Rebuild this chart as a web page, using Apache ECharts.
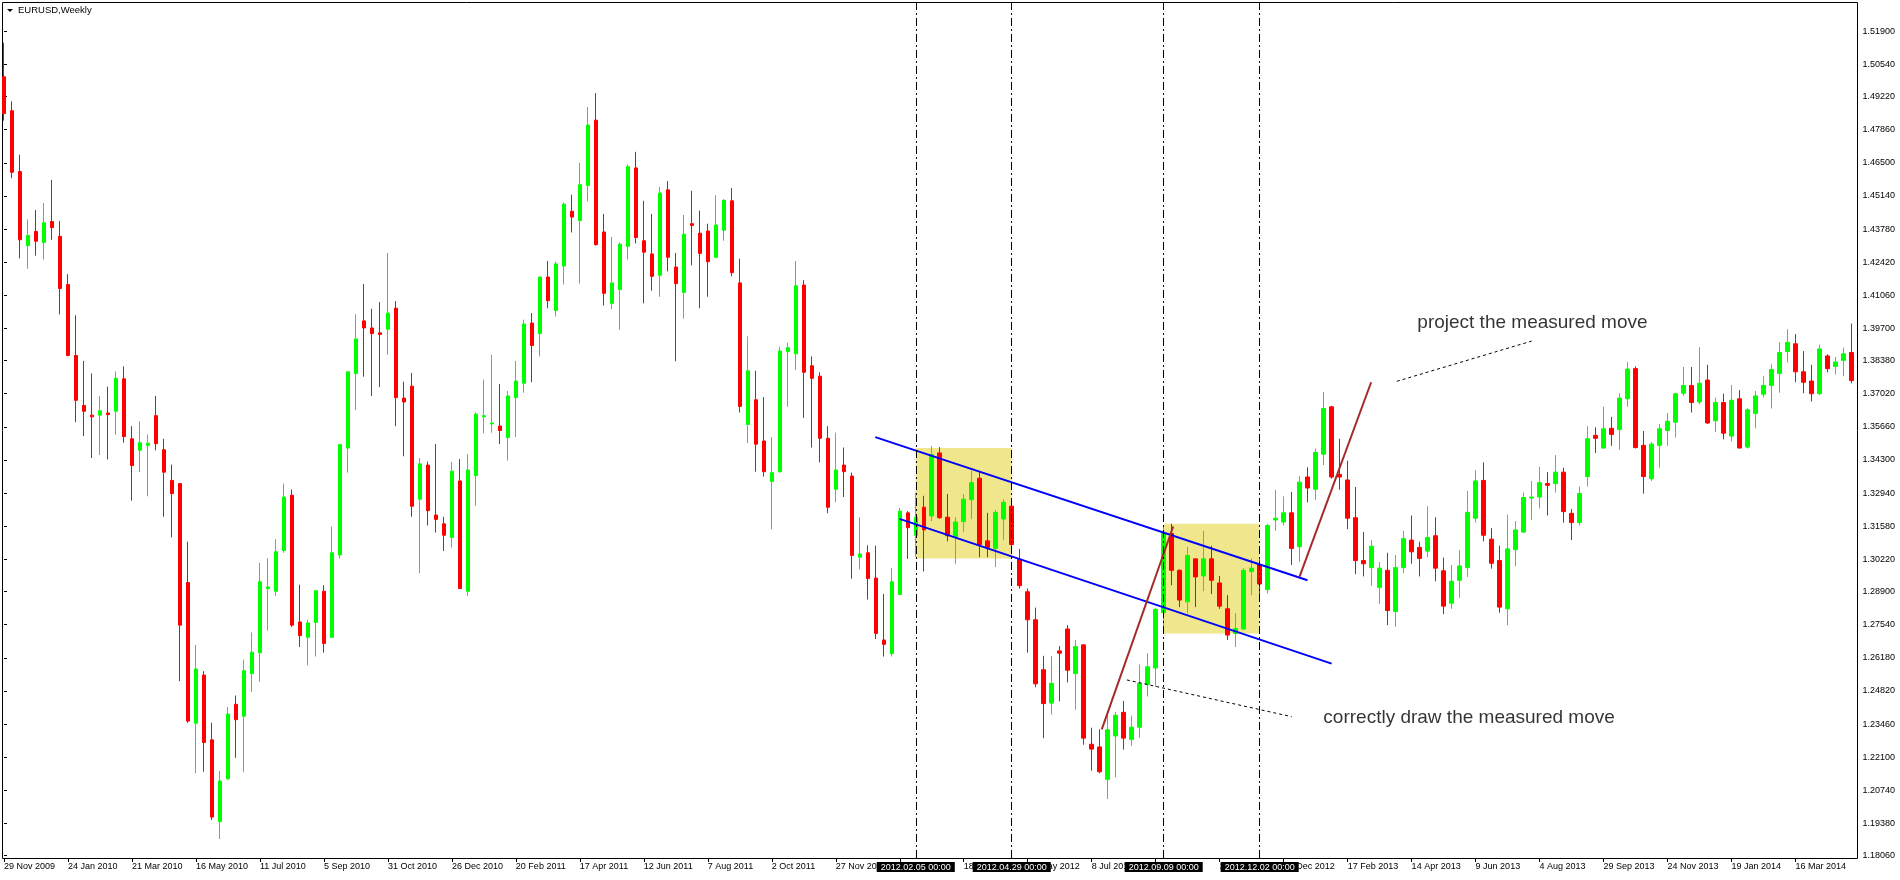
<!DOCTYPE html>
<html>
<head>
<meta charset="utf-8">
<script src="https://cdn.jsdelivr.net/npm/echarts@6/dist/echarts.min.js"></script>
<style>
html,body{margin:0;padding:0;background:#fff;}
#chart{width:1900px;height:880px;}
</style>
</head>
<body>
<div id="chart"></div>
<script>
// ---------------- data ----------------
const firstWeekUTC = [2009, 10, 29];   // 29 Nov 2009 (weekly bars, Sunday open)
const weekCount = 232;

const openPrices = [
1.5003,1.4864,1.4614,1.4310,1.4368,1.4323,1.4409,1.4348,1.4150,1.3859,
1.3654,1.3614,1.3614,1.3623,1.3630,1.3763,1.3517,1.3470,1.3490,1.3612,
1.3472,1.3346,1.3333,1.2927,1.2349,1.2547,1.2281,1.1946,1.2121,1.2427,
1.2378,1.2553,1.2639,1.2902,1.2891,1.3058,1.3285,1.2765,1.2702,1.2763,
1.2891,1.2702,1.3040,1.3479,1.3785,1.4001,1.3972,1.3952,1.3967,1.4053,
1.3684,1.3733,1.3269,1.3409,1.3204,1.3168,1.3112,1.3344,1.2891,1.3366,
1.3607,1.3578,1.3569,1.3522,1.3686,1.3745,1.3992,1.3949,1.4181,1.4044,
1.4226,1.4451,1.4413,1.4557,1.4825,1.4366,1.4073,1.4130,1.4307,1.4629,
1.4330,1.4276,1.4188,1.4539,1.4222,1.4118,1.4400,1.4361,1.4370,1.4262,
1.4373,1.4494,1.4157,1.3576,1.3677,1.3508,1.3342,1.3382,1.3875,1.3866,
1.4148,1.3817,1.3774,1.3519,1.3310,1.3409,1.3364,1.3031,1.3049,1.2945,
1.2691,1.2635,1.2878,1.3213,1.3121,1.3236,1.3200,1.3459,1.3195,1.3114,
1.3177,1.3267,1.3355,1.3098,1.3067,1.3188,1.3240,1.3022,1.2889,1.2774,
1.2569,1.2432,1.2646,1.2736,1.2553,1.2671,1.2263,1.2252,1.2119,1.2297,
1.2394,1.2283,1.2333,1.2508,1.2576,1.2803,1.3128,1.2977,1.2848,1.3024,
1.2954,1.3024,1.2925,1.2819,1.2718,1.2736,1.2972,1.2999,1.2898,1.3184,
1.3175,1.3213,1.3074,1.3360,1.3310,1.3454,1.3648,1.3371,1.3348,1.3193,
1.3017,1.2988,1.2907,1.2977,1.2808,1.2988,1.3101,1.3071,1.3056,1.3119,
1.2975,1.2842,1.2936,1.2988,1.3191,1.3346,1.3105,1.3017,1.2819,1.3062,
1.3134,1.3274,1.3278,1.3333,1.3333,1.3380,1.3211,1.3173,1.3362,1.3531,
1.3479,1.3560,1.3555,1.3681,1.3805,1.3490,1.3353,1.3490,1.3551,1.3585,
1.3704,1.3736,1.3668,1.3758,1.3591,1.3666,1.3528,1.3681,1.3483,1.3621,
1.3700,1.3736,1.3785,1.3875,1.3907,1.3792,1.3754,1.3702,1.3857,1.3814,
1.3839,1.3871
];
const closePrices = [
1.4852,1.4611,1.4334,1.4352,1.4328,1.4404,1.4384,1.4134,1.3859,1.3675,
1.3630,1.3607,1.3632,1.3616,1.3765,1.3526,1.3407,1.3501,1.3499,1.3497,
1.3380,1.3292,1.2752,1.2358,1.2572,1.2270,1.1964,1.2112,1.2387,1.2364,
1.2565,1.2641,1.2930,1.2909,1.3053,1.3278,1.2752,1.2709,1.2761,1.2893,
1.2677,1.3049,1.3493,1.3792,1.3927,1.3972,1.3949,1.3945,1.4033,1.3686,
1.3668,1.3240,1.3414,1.3222,1.3186,1.3121,1.3384,1.2902,1.3389,1.3618,
1.3612,1.3582,1.3551,1.3693,1.3754,1.3988,1.3900,1.4181,1.4084,1.4235,
1.4480,1.4427,1.4560,1.4805,1.4314,1.4114,1.4157,1.4316,1.4634,1.4343,
1.4283,1.4184,1.4526,1.4262,1.4154,1.4357,1.4393,1.4278,1.4244,1.4395,
1.4496,1.4199,1.3650,1.3796,1.3495,1.3382,1.3378,1.3877,1.3891,1.4145,
1.3790,1.3765,1.3519,1.3236,1.3389,1.3382,1.3038,1.3044,1.2943,1.2718,
1.2673,1.2930,1.3220,1.3152,1.3195,1.3143,1.3452,1.3193,1.3119,1.3175,
1.3269,1.3337,1.3083,1.3071,1.3215,1.3256,1.3083,1.2914,1.2774,1.2511,
1.2430,1.2513,1.2637,1.2567,1.2664,1.2288,1.2243,1.2150,1.2322,1.2382,
1.2288,1.2333,1.2513,1.2581,1.2817,1.3129,1.2977,1.2855,1.3038,1.2950,
1.3024,1.2936,1.2830,1.2711,1.2738,1.2977,1.2986,1.2921,1.3161,1.3191,
1.3213,1.3067,1.3339,1.3315,1.3461,1.3641,1.3360,1.3360,1.3191,1.3017,
1.3004,1.3076,1.2986,1.2812,1.2988,1.3107,1.3053,1.3026,1.3112,1.2986,
1.2830,1.2932,1.2995,1.3215,1.3344,1.3121,1.3006,1.2826,1.3065,1.3143,
1.3276,1.3278,1.3337,1.3326,1.3380,1.3218,1.3173,1.3292,1.3517,1.3519,
1.3558,1.3535,1.3684,1.3803,1.3481,1.3362,1.3495,1.3558,1.3589,1.3702,
1.3736,1.3666,1.3745,1.3582,1.3666,1.3540,1.3675,1.3479,1.3636,1.3693,
1.3736,1.3801,1.3871,1.3913,1.3792,1.3749,1.3702,1.3886,1.3805,1.3832,
1.3866,1.3756
];
const lowPrices = [
1.4823,1.4587,1.4258,1.4215,1.4269,1.4253,1.4334,1.4028,1.3855,1.3585,
1.3528,1.3438,1.3450,1.3432,1.3533,1.3501,1.3263,1.3380,1.3281,1.3470,
1.3197,1.3112,1.2522,1.2351,1.2144,1.2150,1.1952,1.1874,1.2117,1.2207,
1.2148,1.2477,1.2520,1.2729,1.2871,1.3049,1.2745,1.2662,1.2587,1.2623,
1.2639,1.2700,1.3026,1.3378,1.3634,1.3772,1.3693,1.3729,1.3862,1.3569,
1.3445,1.3197,1.2965,1.3161,1.3132,1.3056,1.3071,1.2900,1.2871,1.3242,
1.3540,1.3542,1.3495,1.3427,1.3524,1.3706,1.3749,1.3855,1.4053,1.4019,
1.4150,1.4364,1.4154,1.4492,1.4310,1.4064,1.4049,1.3965,1.4253,1.4319,
1.4073,1.4125,1.4100,1.4204,1.3835,1.4010,1.4229,1.4053,1.4100,1.4258,
1.4330,1.4184,1.3625,1.3499,1.3382,1.3362,1.3146,1.3378,1.3648,1.3799,
1.3603,1.3481,1.3420,1.3211,1.3256,1.3278,1.2943,1.2981,1.2857,1.2695,
1.2623,1.2623,1.2875,1.3024,1.3033,1.2972,1.3179,1.3188,1.3096,1.3002,
1.3134,1.3188,1.3031,1.3031,1.2990,1.3101,1.3074,1.2902,1.2639,1.2497,
1.2288,1.2385,1.2439,1.2517,1.2405,1.2261,1.2155,1.2144,1.2038,1.2128,
1.2241,1.2256,1.2290,1.2459,1.2499,1.2748,1.2916,1.2826,1.2801,1.2826,
1.2891,1.2880,1.2819,1.2691,1.2662,1.2734,1.2875,1.2875,1.2882,1.3139,
1.3161,1.2999,1.3011,1.3256,1.3265,1.3409,1.3353,1.3308,1.3146,1.2961,
1.2952,1.2914,1.2839,1.2752,1.2745,1.2965,1.3004,1.2952,1.3031,1.2932,
1.2797,1.2819,1.2864,1.2950,1.3173,1.3096,1.2984,1.2803,1.2752,1.2993,
1.3130,1.3184,1.3231,1.3202,1.3296,1.3173,1.3101,1.3161,1.3321,1.3459,
1.3477,1.3488,1.3472,1.3648,1.3477,1.3292,1.3344,1.3398,1.3488,1.3522,
1.3693,1.3625,1.3659,1.3578,1.3544,1.3515,1.3506,1.3477,1.3477,1.3560,
1.3686,1.3641,1.3706,1.3830,1.3749,1.3704,1.3670,1.3697,1.3790,1.3781,
1.3774,1.3745
];
const highPrices = [
1.5143,1.4902,1.4683,1.4418,1.4456,1.4485,1.4580,1.4411,1.4193,1.4024,
1.3837,1.3785,1.3693,1.3731,1.3794,1.3814,1.3569,1.3589,1.3535,1.3693,
1.3517,1.3411,1.3335,1.3094,1.2671,1.2563,1.2351,1.2153,1.2416,1.2463,
1.2610,1.2722,1.3008,1.3026,1.3105,1.3333,1.3308,1.2918,1.2774,1.2895,
1.2916,1.3157,1.3495,1.3794,1.4028,1.4152,1.4051,1.4078,1.4280,1.4082,
1.3751,1.3787,1.3438,1.3423,1.3495,1.3197,1.3423,1.3434,1.3454,1.3625,
1.3760,1.3862,1.3742,1.3713,1.3837,1.4006,1.4033,1.4183,1.4247,1.4244,
1.4487,1.4519,1.4650,1.4879,1.4936,1.4440,1.4346,1.4323,1.4643,1.4695,
1.4494,1.4440,1.4551,1.4575,1.4280,1.4436,1.4535,1.4454,1.4400,1.4517,
1.4501,1.4546,1.4256,1.3938,1.3796,1.3688,1.3524,1.3895,1.3911,1.4247,
1.4168,1.3855,1.3790,1.3569,1.3542,1.3481,1.3378,1.3195,1.3080,1.3078,
1.2880,1.2986,1.3233,1.3220,1.3296,1.3283,1.3488,1.3483,1.3290,1.3195,
1.3290,1.3387,1.3382,1.3213,1.3224,1.3269,1.3263,1.3065,1.2902,1.2824,
1.2626,1.2626,1.2666,1.2752,1.2691,1.2673,1.2331,1.2324,1.2389,1.2396,
1.2441,1.2380,1.2590,1.2637,1.2821,1.3160,1.3168,1.2981,1.3074,1.3026,
1.3139,1.3078,1.2954,1.2875,1.2801,1.2986,1.3026,1.3022,1.3168,1.3308,
1.3281,1.3299,1.3364,1.3400,1.3477,1.3709,1.3652,1.3517,1.3427,1.3319,
1.3134,1.3101,1.3011,1.3049,1.3040,1.3139,1.3202,1.3094,1.3240,1.3195,
1.3029,1.2999,1.3060,1.3303,1.3389,1.3420,1.3150,1.3078,1.3206,1.3179,
1.3296,1.3344,1.3402,1.3380,1.3450,1.3398,1.3229,1.3321,1.3569,1.3564,
1.3648,1.3607,1.3704,1.3832,1.3814,1.3549,1.3504,1.3578,1.3623,1.3704,
1.3812,1.3812,1.3893,1.3821,1.3686,1.3702,1.3738,1.3717,1.3643,1.3713,
1.3774,1.3823,1.3913,1.3967,1.3947,1.3877,1.3821,1.3904,1.3864,1.3853,
1.3891,1.3990
];

const priceTickLabels = [
1.51900,1.50540,1.49220,1.47860,1.46500,1.45140,1.43780,1.42420,1.41060,1.39700,
1.38380,1.37020,1.35660,1.34300,1.32940,1.31580,1.30220,1.28900,1.27540,1.26180,
1.24820,1.23460,1.22100,1.20740,1.19380,1.18060
];
const priceAxisMin = 1.17960;
const priceAxisMax = 1.53060;

const markedWeeks = ['2012.02.05', '2012.04.29', '2012.09.09', '2012.12.02'];

const rangeBoxFrom   = ['2012.02.05', '2012.09.09'];
const rangeBoxTo     = ['2012.04.29', '2012.12.02'];
const rangeBoxTop    = [1.3479, 1.3168];
const rangeBoxBottom = [1.3026, 1.2718];

// trend lines: [bar position, price] pairs
const channelLines = [
  [[108.94, 1.3524], [162.98, 1.2936]],
  [[111.98, 1.3188], [166.00, 1.2594]]
];
const measuredMoveLines = [
  [[137.26, 1.2324], [146.19, 1.3157]],
  [[161.98, 1.2950], [170.94, 1.3749]]
];
const pointerLines = [
  [[140.40, 1.2527], [161.00, 1.2376]],
  [[174.15, 1.3753], [191.00, 1.3918]]
];
const noteTexts = ['project the measured move', 'correctly draw the measured move'];
const notePositions = [[176.65, 1.3994], [164.90, 1.2373]];

// ---------------- build ----------------
const MONTHS = ['Jan','Feb','Mar','Apr','May','Jun','Jul','Aug','Sep','Oct','Nov','Dec'];
const pad2 = n => (n < 10 ? '0' : '') + n;
const categories = [];
const t0 = Date.UTC(firstWeekUTC[0], firstWeekUTC[1], firstWeekUTC[2]);
for (let i = 0; i < weekCount; i++) {
  const d = new Date(t0 + i * 7 * 86400000);
  categories.push(d.getUTCFullYear() + '.' + pad2(d.getUTCMonth() + 1) + '.' + pad2(d.getUTCDate()));
}
function weekLabel(cat) {
  const p = cat.split('.');
  return parseInt(p[2], 10) + ' ' + MONTHS[parseInt(p[1], 10) - 1] + ' ' + p[0];
}
const candles = categories.map((c, i) => [openPrices[i], closePrices[i], lowPrices[i], highPrices[i]]);
const every8 = (idx) => idx % 8 === 0;
const FONT = "'Liberation Sans', Arial, sans-serif";

const lineItems = []
  .concat(channelLines.map(c => ({ coords: c, lineStyle: { color: '#0000FF', width: 2, type: 'solid', opacity: 1 } })))
  .concat(measuredMoveLines.map(c => ({ coords: c, lineStyle: { color: '#A52A2A', width: 2, type: 'solid', opacity: 1 } })))
  .concat(pointerLines.map(c => ({ coords: c, lineStyle: { color: '#000000', width: 1, type: [3, 3], opacity: 1 } })));

const chart = echarts.init(document.getElementById('chart'), null, { renderer: 'canvas' });
chart.setOption({
  animation: false,
  backgroundColor: '#ffffff',
  textStyle: { fontFamily: FONT },
  title: {
    text: 'EURUSD,Weekly', left: 18, top: 5, padding: 0,
    textStyle: { fontSize: 9.5, fontWeight: 'normal', color: '#000', fontFamily: FONT }
  },
  graphic: [{
    type: 'polygon', silent: true,
    shape: { points: [[7, 9], [13, 9], [10, 12]] },
    style: { fill: '#000' }
  }],
  grid: [
    { left: -0.5, top: 3, width: 1856, height: 855, show: false },
    { left: 2.5, top: 2.5, width: 1855, height: 856, show: true, borderColor: '#000', borderWidth: 1, backgroundColor: 'rgba(0,0,0,0)' }
  ],
  xAxis: [
    {
      type: 'category', gridIndex: 0, data: categories, boundaryGap: true,
      axisLine: { show: false },
      axisTick: { show: true, alignWithLabel: true, interval: every8, length: 4, lineStyle: { color: '#000' } },
      axisLabel: { interval: every8, formatter: weekLabel, align: 'left', margin: 4, fontSize: 9, color: '#000', fontFamily: FONT },
      splitLine: { show: false }
    },
    { type: 'value', gridIndex: 0, min: -0.5, max: weekCount - 0.5, show: false },
    { type: 'value', gridIndex: 1, show: false }
  ],
  yAxis: [
    {
      type: 'value', gridIndex: 0, position: 'right', offset: 2,
      min: priceAxisMin, max: priceAxisMax,
      axisLine: { show: false },
      axisTick: { show: true, customValues: priceTickLabels, length: 3, lineStyle: { color: '#000' } },
      axisLabel: { customValues: priceTickLabels, formatter: v => v.toFixed(5), margin: 5, fontSize: 9, color: '#000', fontFamily: FONT },
      splitLine: { show: false }
    },
    { type: 'value', gridIndex: 1, show: false }
  ],
  series: [
    {
      type: 'candlestick', xAxisIndex: 0, yAxisIndex: 0, data: candles, barWidth: 4,
      itemStyle: { color: '#00FF00', color0: '#FF0000', borderColor: '#00FF00', borderColor0: '#FF0000', borderWidth: 1 },
      emphasis: { disabled: true },
      markArea: {
        silent: true,
        itemStyle: { color: '#F0E68C', opacity: 1 },
        data: rangeBoxFrom.map((f, i) => [{ xAxis: f, yAxis: rangeBoxTop[i] }, { xAxis: rangeBoxTo[i], yAxis: rangeBoxBottom[i] }])
      },
      markLine: {
        silent: true, symbol: ['none', 'none'], animation: false,
        lineStyle: { color: '#000', width: 1, type: [8, 3, 2, 3] },
        label: {
          show: true, position: 'start', formatter: '{b}', distance: 4,
          color: '#fff', backgroundColor: '#000', fontSize: 9, padding: [1, 4, 0, 4], fontFamily: FONT
        },
        emphasis: { disabled: true },
        data: markedWeeks.map(w => ({ xAxis: w, name: w + ' 00:00' }))
      }
    },
    {
      type: 'lines', coordinateSystem: 'cartesian2d', xAxisIndex: 1, yAxisIndex: 0, z: 4,
      silent: true, lineStyle: { opacity: 1 }, data: lineItems
    },
    {
      type: 'scatter', xAxisIndex: 1, yAxisIndex: 0, z: 5, silent: true,
      symbolSize: 1, itemStyle: { color: 'rgba(0,0,0,0)' },
      label: { show: true, position: 'right', distance: 0, formatter: '{b}', fontSize: 19, color: '#000', fontFamily: FONT },
      data: noteTexts.map((t, i) => ({ name: t, value: notePositions[i] }))
    }
  ]
});
</script>
</body>
</html>
